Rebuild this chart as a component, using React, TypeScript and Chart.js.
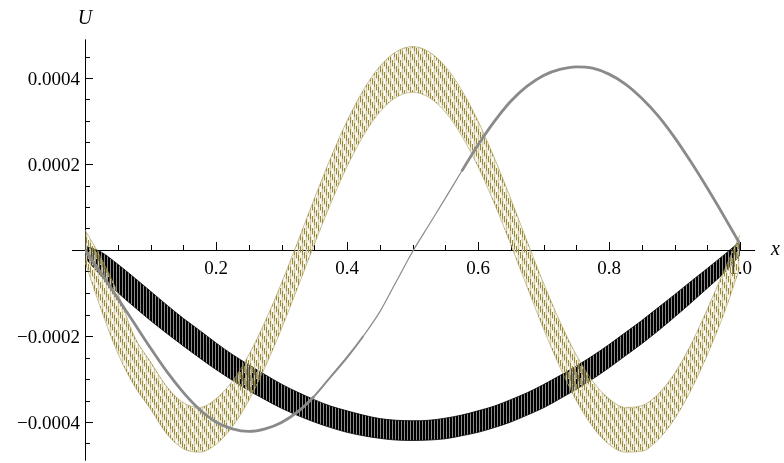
import React, { useEffect, useRef } from "react";
import { Chart, registerables } from "chart.js";

Chart.register(...registerables);

// x positions of the samples
const xs = [
  0, 0.025, 0.05, 0.075, 0.1, 0.125, 0.15, 0.175, 0.2, 0.225, 0.25, 0.275, 0.3, 0.325, 0.35, 0.375, 0.4, 0.425, 0.45,
  0.475, 0.5, 0.525, 0.55, 0.575, 0.6, 0.625, 0.65, 0.675, 0.7, 0.725, 0.75, 0.775, 0.8, 0.825, 0.85, 0.875, 0.9,
  0.925, 0.95, 0.975, 1.0,
];

// black oscillating band (upper / lower envelope)
const blackUpper = [
  10e-6, -5e-6, -33e-6, -64e-6, -96e-6, -128e-6, -159e-6, -187e-6, -216e-6, -243e-6, -267e-6, -290e-6, -312e-6,
  -331e-6, -348e-6, -363e-6, -374e-6, -384e-6, -392e-6, -396e-6, -397e-6, -396e-6, -391e-6, -384e-6, -374e-6,
  -363e-6, -348e-6, -332e-6, -313e-6, -292e-6, -270e-6, -246e-6, -220e-6, -192e-6, -164e-6, -134e-6, -104e-6,
  -73e-6, -43e-6, -12e-6, 20e-6,
];
const blackLower = [
  -18e-6, -61e-6, -99e-6, -132e-6, -164e-6, -194e-6, -223e-6, -251e-6, -278e-6, -303e-6, -327e-6, -348e-6, -368e-6,
  -385e-6, -400e-6, -413e-6, -424e-6, -432e-6, -438e-6, -442e-6, -443e-6, -442e-6, -439e-6, -432e-6, -424e-6,
  -413e-6, -400e-6, -384e-6, -367e-6, -346e-6, -324e-6, -300e-6, -274e-6, -246e-6, -218e-6, -188e-6, -156e-6,
  -123e-6, -89e-6, -54e-6, -12e-6,
];

// olive oscillating band (upper / lower envelope)
const oliveUpper = [
  47e-6, -20e-6, -100e-6, -200e-6, -260e-6, -318e-6, -355e-6, -366e-6, -346e-6, -305e-6, -244e-6, -166e-6, -77e-6,
  20e-6, 119e-6, 214e-6, 300e-6, 372e-6, 427e-6, 461e-6, 473e-6, 461e-6, 427e-6, 372e-6, 300e-6, 214e-6, 119e-6,
  20e-6, -77e-6, -166e-6, -244e-6, -305e-6, -346e-6, -366e-6, -362e-6, -335e-6, -287e-6, -220e-6, -138e-6, -50e-6,
  35e-6,
];
const oliveLower = [
  -28e-6, -140e-6, -240e-6, -315e-6, -370e-6, -428e-6, -462e-6, -470e-6, -452e-6, -411e-6, -350e-6, -272e-6,
  -183e-6, -86e-6, 13e-6, 108e-6, 194e-6, 266e-6, 321e-6, 355e-6, 367e-6, 355e-6, 321e-6, 266e-6, 194e-6, 108e-6,
  13e-6, -86e-6, -183e-6, -272e-6, -350e-6, -411e-6, -452e-6, -470e-6, -468e-6, -441e-6, -393e-6, -326e-6,
  -244e-6, -150e-6, -40e-6,
];

// thin gray curve
const grayValues = [
  0, -55e-6, -112e-6, -170e-6, -228e-6, -283e-6, -331e-6, -371e-6, -400e-6, -416e-6, -422e-6, -416e-6, -401e-6,
  -376e-6, -340e-6, -295e-6, -250e-6, -200e-6, -144e-6, -74e-6, -4e-6, 58e-6, 120e-6, 183e-6, 244e-6, 299e-6,
  346e-6, 381e-6, 406e-6, 420e-6, 426e-6, 423e-6, 409e-6, 386e-6, 353e-6, 312e-6, 262e-6, 205e-6, 144e-6, 80e-6,
  14e-6,
];

// axes ticks
const xMajorTicks = [0.2, 0.4, 0.6, 0.8, 1.0];
const xTickLabels = ["0.2", "0.4", "0.6", "0.8", "1.0"];
const xMinorTicks = [0.05, 0.1, 0.15, 0.25, 0.3, 0.35, 0.45, 0.5, 0.55, 0.65, 0.7, 0.75, 0.85, 0.9, 0.95];
const yMajorTicks = [-0.0004, -0.0002, 0.0002, 0.0004];
const yTickLabels = ["\u22120.0004", "\u22120.0002", "0.0002", "0.0004"];
const yMinorTicks = [
  -0.00045, -0.00035, -0.0003, -0.00025, -0.00015, -0.0001, -0.00005, 0.00005, 0.0001, 0.00015, 0.00025, 0.0003,
  0.00035, 0.00045,
];

const pts = (vals: number[]) => vals.map((v, i) => ({ x: xs[i], y: v }));

function makeStripePattern(ctx: CanvasRenderingContext2D, cols: string[]) {
  const c = document.createElement("canvas");
  c.width = cols.length;
  c.height = 1;
  const g = c.getContext("2d")!;
  cols.forEach((col, i) => {
    if (col) {
      g.fillStyle = col;
      g.fillRect(i, 0, 1, 1);
    }
  });
  return ctx.createPattern(c, "repeat")!;
}

// criss-cross hatch of short vertical strokes
function makeHatchPattern(ctx: CanvasRenderingContext2D, dark: string, light: string, faint: string) {
  const w = 8;
  const h = 12;
  const c = document.createElement("canvas");
  c.width = w;
  c.height = h;
  const g = c.getContext("2d")!;
  for (let col = 0; col < w; col++) {
    for (let r = 0; r < h; r++) {
      let fill = "";
      if (col % 2 === 0) {
        const k = col / 2;
        if ((((r - 3 * k) % h) + h) % h < 6) fill = dark;
        else if ((((r + 3 * k) % h) + h) % h < 7) fill = light;
      } else {
        fill = faint;
      }
      if (fill) {
        g.fillStyle = fill;
        g.fillRect(col, r, 1, 1);
      }
    }
  }
  return ctx.createPattern(c, "repeat")!;
}

const axesPlugin = {
  id: "mmaAxes",
  beforeDatasetsDraw(chart: any) {
    const ctx: CanvasRenderingContext2D = chart.ctx;
    const xs_ = chart.scales.x;
    const ys_ = chart.scales.y;
    const ca = chart.chartArea;
    const x0 = xs_.getPixelForValue(0);
    const y0 = ys_.getPixelForValue(0);
    ctx.save();
    ctx.strokeStyle = "#000";
    ctx.lineWidth = 1;
    ctx.beginPath();
    ctx.moveTo(x0 - 13, Math.round(y0) + 0.5);
    ctx.lineTo(xs_.getPixelForValue(1.023), Math.round(y0) + 0.5);
    ctx.moveTo(Math.round(x0) + 0.5, ca.top);
    ctx.lineTo(Math.round(x0) + 0.5, ca.bottom);
    ctx.stroke();
    ctx.beginPath();
    xMinorTicks.forEach((t) => {
      const px = Math.round(xs_.getPixelForValue(t)) + 0.5;
      ctx.moveTo(px, y0);
      ctx.lineTo(px, y0 - 5);
    });
    xMajorTicks.forEach((t) => {
      const px = Math.round(xs_.getPixelForValue(t)) + 0.5;
      ctx.moveTo(px, y0);
      ctx.lineTo(px, y0 - 8);
    });
    yMinorTicks.forEach((t) => {
      const py = Math.round(ys_.getPixelForValue(t)) + 0.5;
      ctx.moveTo(x0, py);
      ctx.lineTo(x0 + 5, py);
    });
    yMajorTicks.forEach((t) => {
      const py = Math.round(ys_.getPixelForValue(t)) + 0.5;
      ctx.moveTo(x0, py);
      ctx.lineTo(x0 + 8, py);
    });
    ctx.stroke();
    ctx.fillStyle = "#000";
    ctx.font = '19px "Liberation Serif"';
    ctx.textAlign = "center";
    ctx.textBaseline = "alphabetic";
    xMajorTicks.forEach((t, i) => {
      ctx.fillText(xTickLabels[i], xs_.getPixelForValue(t), y0 + 23.5);
    });
    ctx.textAlign = "right";
    yMajorTicks.forEach((t, i) => {
      ctx.fillText(yTickLabels[i], x0 - 5, ys_.getPixelForValue(t) + 6.5);
    });
    ctx.font = 'italic 20px "Liberation Serif"';
    ctx.textAlign = "center";
    ctx.fillText("U", x0, 23.5);
    ctx.textAlign = "left";
    ctx.fillText("x", 771, y0 + 5);
    ctx.restore();
  },
};

export default function App() {
  const ref = useRef<HTMLCanvasElement>(null);
  useEffect(() => {
    document.body.style.margin = "0";
    const canvas = ref.current!;
    const ctx = canvas.getContext("2d")!;
    const blackPat = makeStripePattern(ctx, ["#000", "#000", "rgba(0,0,0,0.45)"]);
    const olivePat = makeHatchPattern(ctx, "#978a3c", "rgba(210,202,160,0.95)", "rgba(214,206,165,0.35)");
    const grayWidth = (c: any) => {
      const x = c.p0.parsed.x;
      if (x >= 0.425 && x < 0.575) return 1.2;
      if (x >= 0.35 && x < 0.425) return 2;
      return 2.8;
    };
    const chart = new Chart(canvas, {
      type: "line",
      data: {
        datasets: [
          {
            data: pts(blackLower),
            borderColor: "rgba(0,0,0,0.8)",
            borderWidth: 1,
            pointRadius: 0,
            fill: false,
            cubicInterpolationMode: "monotone",
            order: 60,
          },
          {
            data: pts(blackUpper),
            borderColor: "rgba(0,0,0,0.8)",
            borderWidth: 1,
            pointRadius: 0,
            fill: "-1",
            backgroundColor: blackPat,
            cubicInterpolationMode: "monotone",
            order: 50,
          },
          {
            data: pts(oliveLower),
            borderColor: "rgba(165,152,80,0.6)",
            borderWidth: 1,
            pointRadius: 0,
            fill: false,
            cubicInterpolationMode: "monotone",
            order: 40,
          },
          {
            data: pts(oliveUpper),
            borderColor: "rgba(165,152,80,0.6)",
            borderWidth: 1,
            pointRadius: 0,
            fill: "-1",
            backgroundColor: olivePat,
            cubicInterpolationMode: "monotone",
            order: 30,
          },
          {
            data: pts(grayValues),
            borderColor: "#8a8a8a",
            borderWidth: 2.6,
            pointRadius: 0,
            fill: false,
            cubicInterpolationMode: "monotone",
            segment: { borderWidth: grayWidth },
            order: 10,
          },
        ],
      },
      options: {
        animation: false,
        responsive: false,
        devicePixelRatio: 1,
        layout: { padding: { left: 85, right: 44, top: 39.3, bottom: 2.3 } },
        plugins: { legend: { display: false }, tooltip: { enabled: false }, title: { display: false } },
        scales: {
          x: { type: "linear", min: 0, max: 1, display: false },
          y: { type: "linear", min: -0.00049, max: 0.00049, display: false },
        },
      },
      plugins: [axesPlugin],
    });
    return () => chart.destroy();
  }, []);
  return <canvas ref={ref} width={784} height={463} style={{ display: "block", width: 784, height: 463 }} />;
}
